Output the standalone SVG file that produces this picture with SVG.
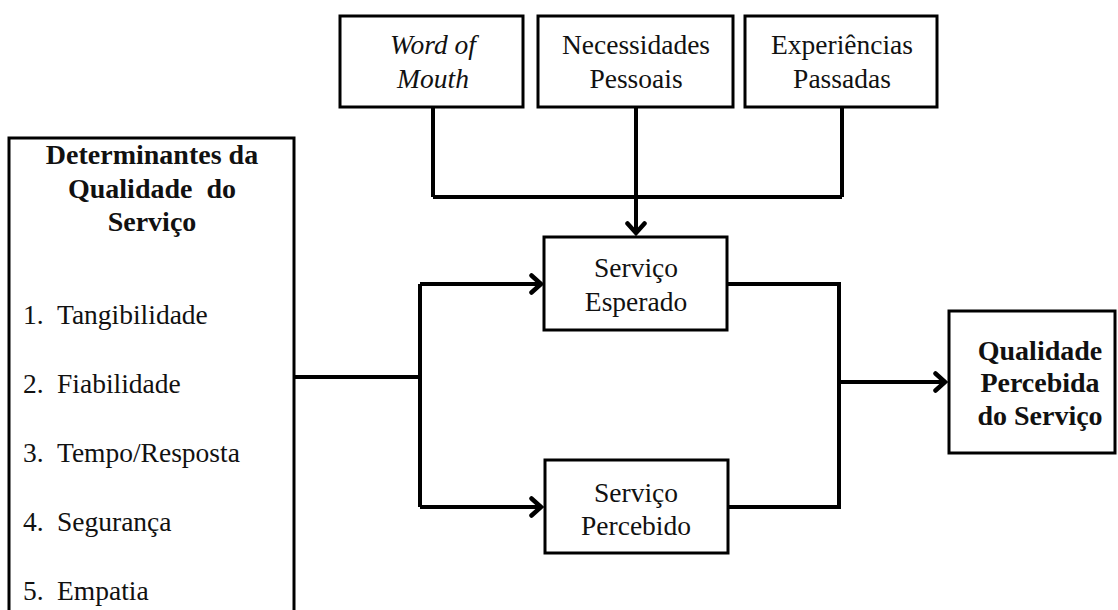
<svg xmlns="http://www.w3.org/2000/svg" width="1118" height="610" viewBox="0 0 1118 610">
<style>
.box{fill:#fff;stroke:#000;stroke-width:3}
.t{font-family:"Liberation Serif","Times New Roman",serif;font-size:27.5px;fill:#111}
.c{text-anchor:middle}
.b{font-weight:bold;font-size:28px}
.i{font-style:italic}
.conn{fill:none;stroke:#000;stroke-width:4;stroke-linejoin:miter}
</style>
<defs>
<marker id="arr" markerUnits="userSpaceOnUse" viewBox="0 0 16 22" refX="13" refY="11" markerWidth="16" markerHeight="22" orient="auto">
<path d="M2.5 2.5 L12 11 L2.5 19.5" fill="none" stroke="#000" stroke-width="4.5" stroke-linecap="round" stroke-linejoin="miter"/>
</marker>
</defs>
<rect width="1118" height="610" fill="#fff"/>
<g id="connectors" class="conn">
<path d="M433 107 V197 M842 107 V197 M433 197 H842"/>
<path d="M636 107 V234" marker-end="url(#arr)"/>
<path d="M294 377 H420 M420 284 V507"/>
<path d="M420 284 H542" marker-end="url(#arr)"/>
<path d="M420 507 H542" marker-end="url(#arr)"/>
<path d="M727 284 H839 V507 H727"/>
<path d="M839 382 H946" marker-end="url(#arr)"/>
</g>
<g id="word-of-mouth">
<rect class="box" x="340" y="16" width="183" height="91"/>
<text class="t c i" x="433" y="54">Word of</text>
<text class="t c i" x="433" y="88">Mouth</text>
</g>
<g id="necessidades-pessoais">
<rect class="box" x="538" y="16" width="195" height="91"/>
<text class="t c" x="636" y="54">Necessidades</text>
<text class="t c" x="636" y="88">Pessoais</text>
</g>
<g id="experiencias-passadas">
<rect class="box" x="745" y="16" width="192" height="91"/>
<text class="t c" x="842" y="54">Experiências</text>
<text class="t c" x="842" y="88">Passadas</text>
</g>
<g id="determinantes">
<rect class="box" x="9" y="138" width="285" height="490"/>
<text class="t c b" x="152" y="164">Determinantes da</text>
<text class="t c b" x="152" y="198" xml:space="preserve">Qualidade  do</text>
<text class="t c b" x="152" y="231">Serviço</text>
<text class="t" x="23" y="324">1.</text><text class="t" x="57" y="324">Tangibilidade</text>
<text class="t" x="23" y="393">2.</text><text class="t" x="57" y="393">Fiabilidade</text>
<text class="t" x="23" y="462">3.</text><text class="t" x="57" y="462">Tempo/Resposta</text>
<text class="t" x="23" y="531">4.</text><text class="t" x="57" y="531">Segurança</text>
<text class="t" x="23" y="600">5.</text><text class="t" x="57" y="600">Empatia</text>
</g>
<g id="servico-esperado">
<rect class="box" x="544" y="237" width="183" height="93"/>
<text class="t c" x="636" y="277">Serviço</text>
<text class="t c" x="636" y="311">Esperado</text>
</g>
<g id="servico-percebido">
<rect class="box" x="545" y="460" width="183" height="93"/>
<text class="t c" x="636" y="502">Serviço</text>
<text class="t c" x="636" y="535">Percebido</text>
</g>
<g id="qualidade-percebida">
<rect class="box" x="949" y="311" width="166" height="142"/>
<text class="t c b" x="1040" y="360">Qualidade</text>
<text class="t c b" x="1040" y="392">Percebida</text>
<text class="t c b" x="1040" y="425">do Serviço</text>
</g>
</svg>
